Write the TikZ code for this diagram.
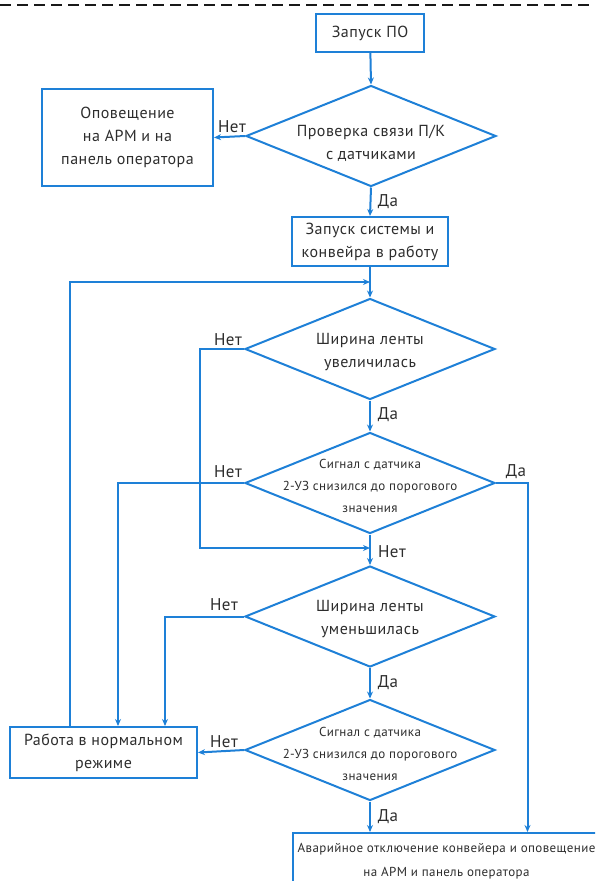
\documentclass[tikz,border=0pt]{standalone}
\usepackage{fontspec}
\setmainfont{PT Sans}[LetterSpace=3]
\usetikzlibrary{shapes.geometric,arrows.meta}
\definecolor{fb}{RGB}{30,128,215}
\definecolor{ft}{RGB}{45,45,45}
\begin{document}
\begin{tikzpicture}[x=1pt,y=-1pt,
  box/.style={draw=fb,line width=2pt,rectangle,inner sep=0pt,text=ft,align=center,font=\fontsize{16}{23}\selectfont},
  dia/.style={draw=fb,line width=2pt,diamond,inner sep=0pt,minimum width=250pt,minimum height=101pt},
  dtxt/.style={text=ft,align=center,inner sep=0pt,font=\fontsize{16}{23}\selectfont},
  stxt/.style={text=ft,align=center,inner sep=0pt,font=\fontsize{13}{22}\selectfont},
  lbl/.style={text=ft,inner sep=0pt,font=\fontsize{17}{18}\selectfont},
  conn/.style={draw=fb,line width=2pt,-{Stealth[length=7pt,width=6pt]}},
  line/.style={draw=fb,line width=2pt}
]
\useasboundingbox (0,0) rectangle (595,881);
\clip (0,0) rectangle (595,881);
\draw[line width=2.8pt,draw=black!90,dash pattern=on 11pt off 6pt] (0,5) -- (595,5);

% boxes
\node[box,minimum width=108pt,minimum height=38pt] (b1) at (370,33) {Запуск ПО};
\node[box,minimum width=171pt,minimum height=97pt] (b2) at (127.5,137.5) {Оповещение\\на АРМ и на\\панель оператора};
\node[box,minimum width=156pt,minimum height=49pt] (b3) at (370,241.5) {Запуск системы и\\конвейра в работу};
\node[box,minimum width=187pt,minimum height=51pt] (b4) at (103.5,752.5) {Работа в нормальном\\режиме};
\node[box,minimum width=307pt,minimum height=57pt,font=\fontsize{13}{24}\selectfont] (b5) at (446.5,861.5) {Аварийное отключение конвейера и оповещение\\на АРМ и панель оператора};

% diamonds
\node[dia] (d1) at (371,136) {};
\node[dtxt] (t1) at (371,143) {Проверка связи П/К\\с датчиками};
\node[dia] (d2) at (370,349) {};
\node[dtxt] (t2) at (370,352) {Ширина ленты\\увеличилась};
\node[dia] (d3) at (370,483) {};
\node[stxt] (t3) at (370,486) {Сигнал с датчика\\2-УЗ снизился до порогового\\значения};
\node[dia] (d4) at (370,616.5) {};
\node[dtxt] (t4) at (370,619) {Ширина ленты\\уменьшилась};
\node[dia] (d5) at (370,750) {};
\node[stxt] (t5) at (370,754) {Сигнал с датчика\\2-УЗ снизился до порогового\\значения};

% junction points
\coordinate (m1) at (370,282);
\coordinate (m2) at (370,548);

% connectors
\draw[conn] (b1) -- (d1.north);
\draw[conn] (d1.west) -- (b2.east);
\draw[conn] (d1.south) -- (b3.north);
\draw[line] (b3.south) -- (m1);
\draw[conn] (m1) -- (d2.north);
\draw[conn] (b4.north -| 69.5,0) -- (69.5,282) -- (m1);
\draw[conn] (d2.west) -- (200,349) -- (200,548) -- (m2);
\draw[conn] (d2.south) -- (d3.north);
\draw[line] (d3.south) -- (m2);
\draw[conn] (m2) -- (d4.north);
\draw[conn] (d3.west) -- (118,483) -- (b4.north -| 118,0);
\draw[conn] (d3.east) -- (527.5,483) -- (b5.north -| 527.5,0);
\draw[conn] (d4.west) -- (165,616.5) -- (b4.north -| 165,0);
\draw[conn] (d4.south) -- (d5.north);
\draw[conn] (d5.west) -- (b4.east);
\draw[conn] (d5.south) -- (b5.north -| 370,0);

% labels
\node[lbl] (l1) at (232,127) {Нет};
\node[lbl] (l2) at (388,202) {Да};
\node[lbl] (l3) at (228,340) {Нет};
\node[lbl] (l4) at (388,415) {Да};
\node[lbl] (l5) at (228,472) {Нет};
\node[lbl] (l6) at (516,472) {Да};
\node[lbl] (l7) at (392,552) {Нет};
\node[lbl] (l8) at (224,605) {Нет};
\node[lbl] (l9) at (388,683) {Да};
\node[lbl] (l10) at (224,742) {Нет};
\node[lbl] (l11) at (388,817) {Да};
\end{tikzpicture}
\end{document}
